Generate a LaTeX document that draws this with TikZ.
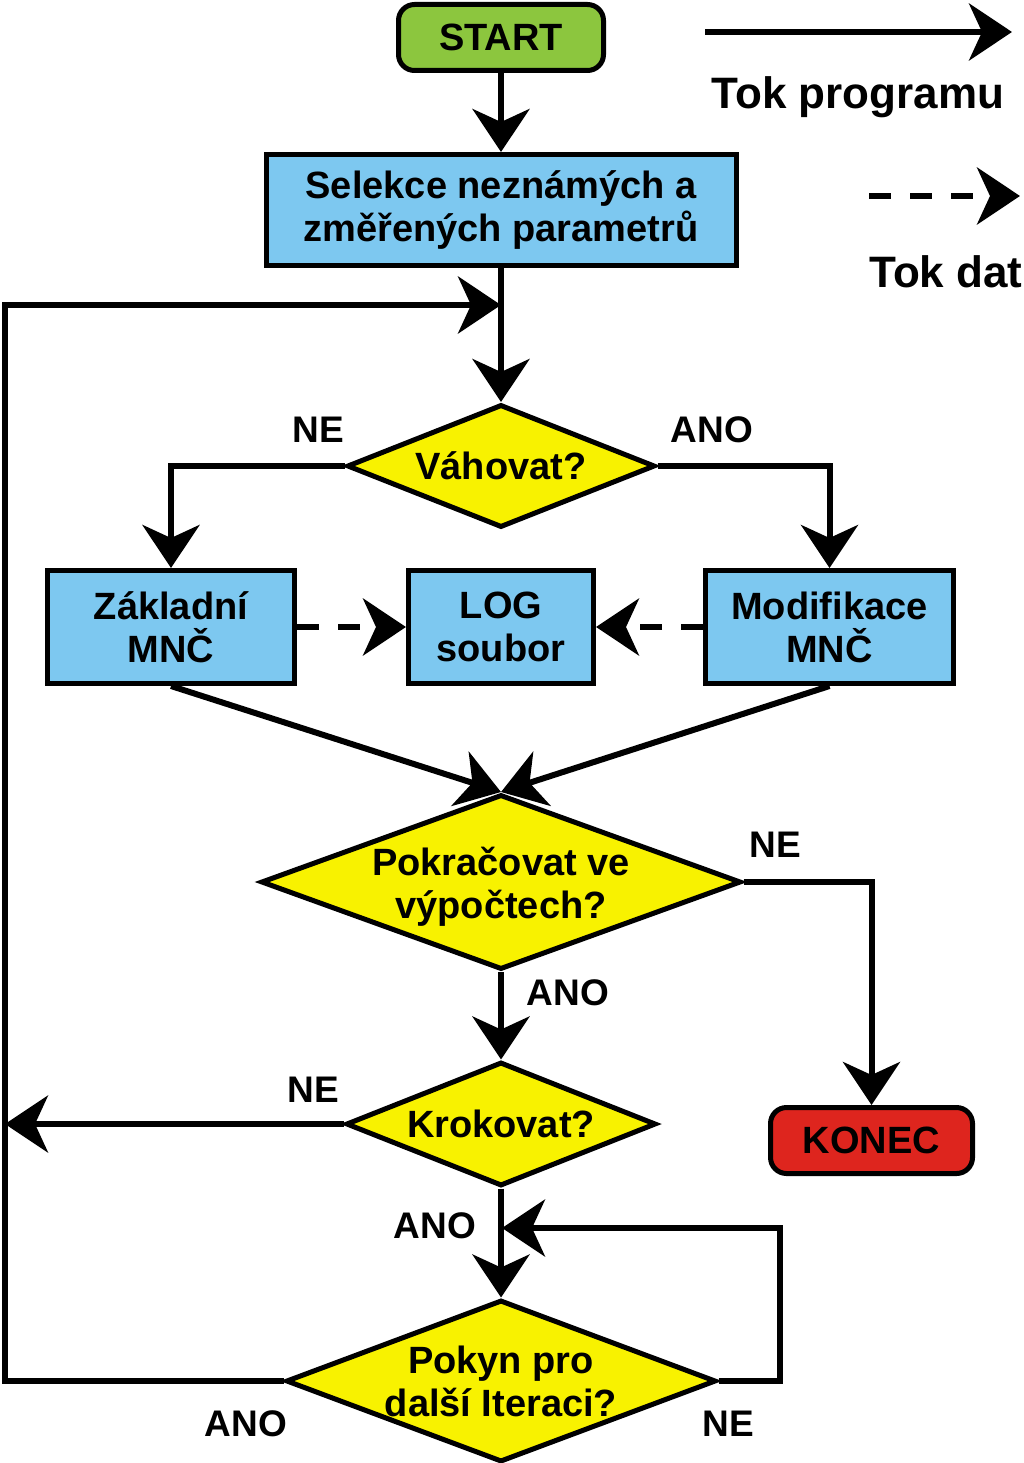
\documentclass[tikz,border=0pt]{standalone}
\usepackage{fontspec}
\setmainfont{Liberation Sans}
\usetikzlibrary{arrows.meta,shapes.geometric}
\definecolor{cgreen}{HTML}{8CC63E}
\definecolor{cblue}{HTML}{7DC8F0}
\definecolor{cyellow}{HTML}{F8F200}
\definecolor{cred}{HTML}{DE251E}
\begin{document}
\begin{tikzpicture}[x=1pt,y=-1pt,
 every node/.style={font=\bfseries\fontsize{38}{43}\selectfont, align=center, text=black},
 box/.style={draw=black, line width=5pt, fill=cblue, inner sep=0pt},
 term/.style={box, rounded corners=16pt},
 dec/.style={draw=black, line width=5pt, fill=cyellow, shape=diamond, inner sep=0pt, aspect=1},
 flow/.style={line width=6pt, -{Stealth[length=43pt,width=57pt,inset=13pt]}},
 data/.style={flow, dash pattern=on 22pt off 19pt},
 lbl/.style={font=\bfseries\fontsize{37}{42}\selectfont},
 leg/.style={font=\bfseries\fontsize{44}{48}\selectfont}
]
\useasboundingbox (0,0) rectangle (1024,1463);

% nodes
\node[term, fill=cgreen, minimum width=205, minimum height=66] (start) at (501,37.5) {START};
\node[box, minimum width=470, minimum height=111] (sel) at (501,210) {Selekce neznámých a\\změřených parametrů};
\node[dec, minimum width=308, minimum height=123, label={center:Váhovat?}] (vah) at (501,466) {};
\node[box, minimum width=247, minimum height=113] (zak) at (171,627) {Základní\\MNČ};
\node[box, minimum width=185, minimum height=113] (log) at (501,627) {LOG\\soubor};
\node[box, minimum width=248, minimum height=113] (mod) at (829.5,627) {Modifikace\\MNČ};
\node[dec, minimum width=480, minimum height=175, label={[yshift=-5pt]center:Pokračovat ve\\výpočtech?}] (pokr) at (501,882) {};
\node[term, fill=cred, minimum width=202, minimum height=66] (konec) at (871.5,1140.5) {KONEC};
\node[dec, minimum width=310, minimum height=124, label={center:Krokovat?}] (krok) at (501,1124) {};
\node[dec, minimum width=430, minimum height=162, label={center:Pokyn pro\\další Iteraci?}] (pokyn) at (501,1381) {};

% labels
\node[lbl] (l1) at (318,430) {NE};
\node[lbl] (l2) at (712,430) {ANO};
\node[lbl] (l3) at (775,845) {NE};
\node[lbl] (l4) at (568,993) {ANO};
\node[lbl] (l5) at (313,1090) {NE};
\node[lbl] (l6) at (435,1226) {ANO};
\node[lbl] (l7) at (246,1424) {ANO};
\node[lbl] (l8) at (728,1424) {NE};

% helper coordinates
\coordinate (lt) at (5,305);
\coordinate (mt) at (501,305);
\coordinate (lm) at (5,1124);
\coordinate (rt) at (780,1228);
\coordinate (rm) at (502,1228);

% connectors
\draw[flow] (start) -- (sel);
\draw[flow] (sel) -- (vah);
\draw[flow] (pokyn.west) -| (lt) -- (mt);
\draw[flow] (vah.west) -| (zak.north);
\draw[flow] (vah.east) -| (mod.north);
\draw[data] (zak.east) -- (log.west);
\draw[data] (mod.west) -- (log.east);
\draw[flow] (zak.south) -- (pokr.north);
\draw[flow] (mod.south) -- (pokr.north);
\draw[flow] (pokr.east) -| (konec.north);
\draw[flow] (pokr.south) -- (krok.north);
\draw[flow] (krok.west) -- (lm);
\draw[flow] (krok.south) -- (pokyn.north);
\draw[flow] (pokyn.east) -| (rt) -- (rm);

% legend
\coordinate (la) at (705,32);
\coordinate (lb) at (1012,32);
\draw[flow] (la) -- (lb);
\node[leg] (tp) at (858,97) {Tok programu};
\coordinate (lc) at (869,196);
\coordinate (ld) at (1020,196);
\draw[data] (lc) -- (ld);
\node[leg] (td) at (946,272) {Tok dat};
\end{tikzpicture}
\end{document}
